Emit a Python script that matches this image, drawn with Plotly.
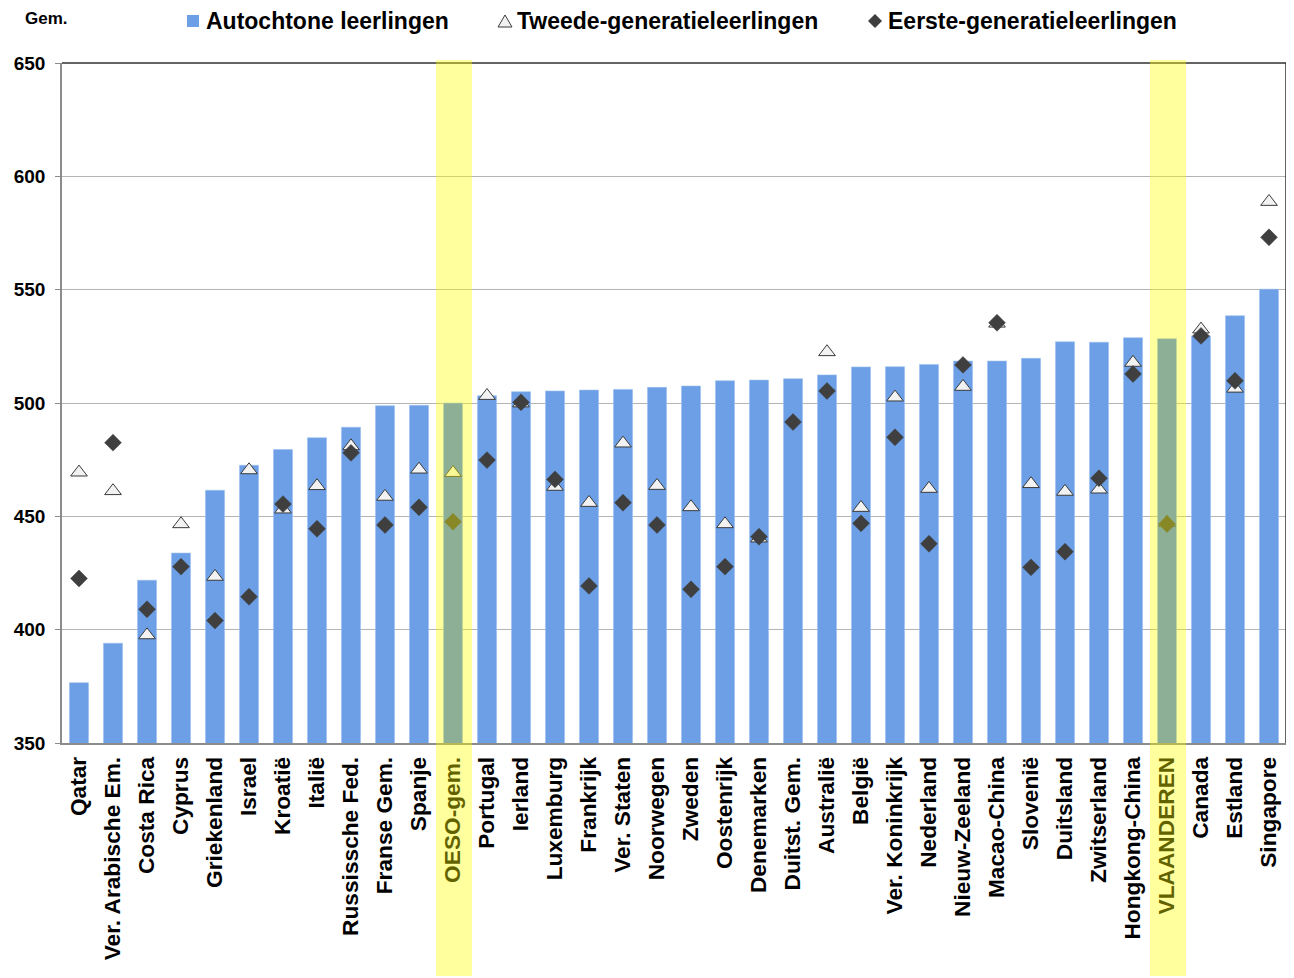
import plotly.graph_objects as go

categories = ["Qatar", "Ver. Arabische Em.", "Costa Rica", "Cyprus", "Griekenland", "Israel",
              "Kroatië", "Italië", "Russissche Fed.", "Franse Gem.", "Spanje", "OESO-gem.",
              "Portugal", "Ierland", "Luxemburg", "Frankrijk", "Ver. Staten", "Noorwegen",
              "Zweden", "Oostenrijk", "Denemarken", "Duitst. Gem.", "Australië", "België",
              "Ver. Koninkrijk", "Nederland", "Nieuw-Zeeland", "Macao-China", "Slovenië",
              "Duitsland", "Zwitserland", "Hongkong-China", "VLAANDEREN", "Canada", "Estland",
              "Singapore"]

autochtoon = [376.6, 394, 421.8, 433.8, 461.5, 472.5, 479.5, 484.7, 489.3, 498.8, 499, 500,
              503.2, 505, 505.3, 505.7, 506, 506.9, 507.5, 509.8, 510.1, 510.7, 512.4, 515.9,
              516, 517, 518.5, 518.5, 519.7, 527, 526.8, 528.8, 528.4, 529.6, 538.5, 550.2]

tweede = [469.4, 461.2, 397.6, 446.6, 423.4, 470.4, 453.1, 463.4, 481, 458.7, 470.7, 469.2,
          503.2, 499.9, 463.1, 456, 482.2, 463.5, 454.1, 446.6, 440.3, None, 522.5, 453.8,
          502.5, 462.2, 507.2, 535.1, 464.3, 460.9, 461.9, 517.8, 447.2, 532.5, 506.4, 588.8]

eerste = [422.6, 482.5, 409, 427.8, 404, 414.5, 455.4, 444.5, 478, 446.2, 454, 447.6,
          474.8, 500.3, 466.3, 419.3, 456, 446.2, 417.8, 427.8, 441, 491.6, 505.3, 446.9,
          484.9, 437.9, 516.8, 535.4, 427.5, 434.4, 466.8, 512.8, 446.6, 529.6, 509.8, 573.1]

highlight = ["OESO-gem.", "VLAANDEREN"]

legend_labels = ["Autochtone leerlingen", "Tweede-generatieleerlingen", "Eerste-generatieleerlingen"]

# page body has an 8px margin: figure origin sits at screen (8, 8)
OFF = 8
W, H = 1286, 970
ML, MR, MT, MB = 54, 8, 55, 235
PW, PH = W - ML - MR, H - MT - MB


def px(x):  # screen x -> paper
    return (x - OFF - ML) / PW


def py(y):  # screen y -> paper
    return (H - MB - (y - OFF)) / PH


FONT = "Arial, Liberation Sans, sans-serif"
BLUE = "#6d9fe6"

bar_colors = ["#467ef2" if c in highlight else BLUE for c in categories]

fig = go.Figure()
fig.add_trace(go.Bar(
    x=categories, y=autochtoon, name=legend_labels[0],
    marker=dict(color=bar_colors, line=dict(color="#9cc0f0", width=0.6)),
    width=0.56, showlegend=False,
))
fig.add_trace(go.Scatter(
    x=categories, y=tweede, name=legend_labels[1], mode="markers",
    marker=dict(symbol="triangle-up", size=14.5, color="#f2f2f2",
                line=dict(color="#3a3a3a", width=1)),
    showlegend=False,
))
fig.add_trace(go.Scatter(
    x=categories, y=eerste, name=legend_labels[2], mode="markers",
    marker=dict(symbol="diamond", size=13, color="#3f3f3f",
                line=dict(color="#3f3f3f", width=0.5)),
    showlegend=False,
))

shapes = []
# top and right border (dark)
shapes.append(dict(type="line", xref="paper", yref="paper", x0=0, x1=1, y0=1, y1=1,
                   line=dict(color="#303030", width=1.5), layer="above"))
shapes.append(dict(type="line", xref="paper", yref="paper", x0=1, x1=1, y0=0, y1=1,
                   line=dict(color="#303030", width=1.5), layer="above"))
# highlight columns
n = len(categories)
for c in highlight:
    i = categories.index(c)
    xc = OFF + ML + PW * (i + 0.5) / n
    shapes.append(dict(type="rect", xref="paper", yref="paper",
                       x0=px(xc - 17), x1=px(xc + 19), y0=py(976), y1=py(60),
                       fillcolor="rgba(255,255,0,0.38)", line=dict(width=0), layer="above"))

# legend symbols
ly = py(21)
shapes.append(dict(type="rect", xref="paper", yref="paper", xsizemode="pixel", ysizemode="pixel",
                   xanchor=px(193), yanchor=ly, x0=-6, x1=6, y0=-6, y1=6,
                   fillcolor=BLUE, line=dict(width=0)))
shapes.append(dict(type="path", xref="paper", yref="paper", xsizemode="pixel", ysizemode="pixel",
                   xanchor=px(505), yanchor=ly, path="M -7,-6 L 7,-6 L 0,6 Z",
                   fillcolor="#f2f2f2", line=dict(color="#3a3a3a", width=1)))
shapes.append(dict(type="path", xref="paper", yref="paper", xsizemode="pixel", ysizemode="pixel",
                   xanchor=px(875), yanchor=ly, path="M -7,0 L 0,7 L 7,0 L 0,-7 Z",
                   fillcolor="#3f3f3f", line=dict(width=0)))

annotations = [
    dict(text="Gem.", xref="paper", yref="paper", x=px(46), y=py(OFF), showarrow=False,
         xanchor="center", yanchor="top", borderpad=0,
         font=dict(family=FONT, size=17, color="black", weight="bold")),
]
for label, xpos in zip(legend_labels, [204, 515, 886]):
    annotations.append(dict(text=label, xref="paper", yref="paper", x=px(xpos), y=ly,
                            showarrow=False, xanchor="left", yanchor="middle",
                            font=dict(family=FONT, size=23, color="black", weight="bold")))

fig.update_layout(
    width=W, height=H,
    margin=dict(l=ML, r=MR, t=MT, b=MB, pad=0, autoexpand=False),
    paper_bgcolor="white", plot_bgcolor="white",
    shapes=shapes, annotations=annotations,
    font=dict(family=FONT, color="black"),
)
fig.update_xaxes(
    type="category", range=[-0.5, n - 0.5], autorange=False, automargin=False,
    tickangle=-90, ticks="", showgrid=False,
    showline=True, linecolor="#8c8c8c", linewidth=1.5,
    tickfont=dict(family=FONT, size=22.7, color="black", weight="bold"),
    ticklabelstandoff=3,
)
fig.update_yaxes(
    range=[350, 650], autorange=False, automargin=False, dtick=50, tick0=350,
    showgrid=True, gridcolor="#b4b4b4", gridwidth=1,
    showline=True, linecolor="#8c8c8c", linewidth=1.5,
    ticks="outside", ticklen=5, tickcolor="#8c8c8c",
    tickfont=dict(family=FONT, size=19, color="black", weight="bold"),
    ticklabelstandoff=6, zeroline=False,
)

fig.write_html("out.html")
